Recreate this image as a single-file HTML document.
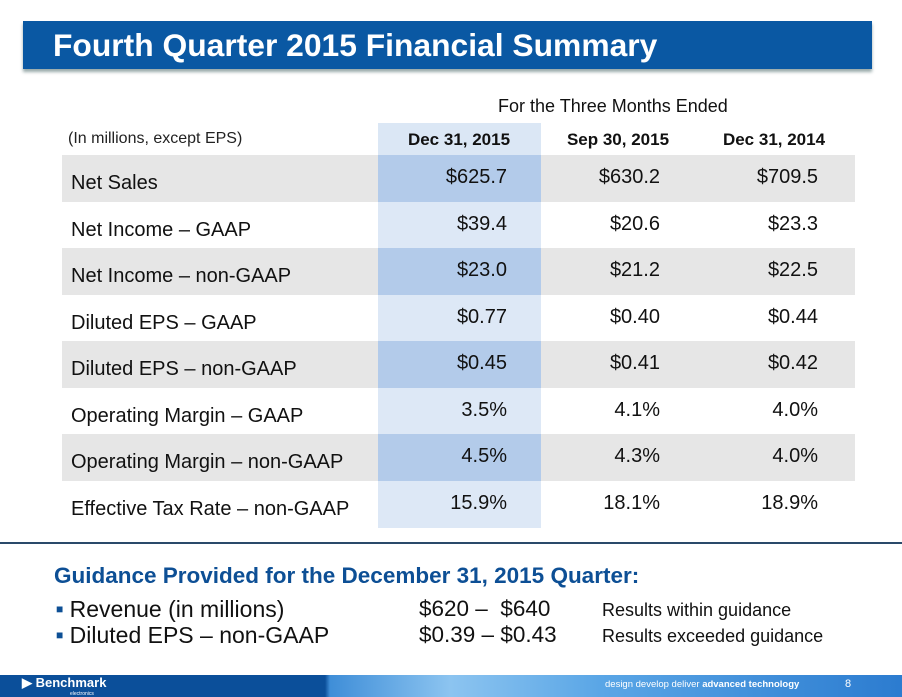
<!DOCTYPE html>
<html><head><meta charset="utf-8"><style>
body{margin:0;width:902px;height:697px;overflow:hidden;background:#fff;font-family:"Liberation Sans",sans-serif;position:relative}
.a{position:absolute;white-space:nowrap}
.row{position:absolute;left:62px;width:793px;height:47px}
.lab{position:absolute;left:9px;top:16px;font-size:20px;color:#111;line-height:24px}
.v{position:absolute;top:10px;font-size:20px;color:#111;text-align:right;width:120px;line-height:24px}
.h{position:absolute;top:130px;font-size:17px;font-weight:bold;color:#111;text-align:center;width:160px}
</style></head><body>
<div class="a" style="left:23px;top:21px;width:849px;height:48px;background:#0a58a3;box-shadow:0 3px 3px #9aa"></div>
<div class="a" style="left:53px;top:27px;font-size:31.8px;font-weight:bold;color:#fff">Fourth Quarter 2015 Financial Summary</div>
<div class="a" style="left:498px;top:96px;font-size:18px;color:#111">For the Three Months Ended</div>
<div class="a" style="left:68px;top:130px;font-size:16px;color:#222">(In millions, except EPS)</div>
<div class="a" style="left:378px;top:123px;width:163px;height:32px;background:#dbe7f5"></div>
<div class="h" style="left:379px">Dec 31, 2015</div>
<div class="h" style="left:538px">Sep 30, 2015</div>
<div class="h" style="left:694px">Dec 31, 2014</div>
<div id="tbl"></div>
<div class="a" style="left:0;top:542px;width:902px;height:1.5px;background:#2a4a6a"></div>
<div class="a" style="left:54px;top:563px;font-size:22.5px;font-weight:bold;color:#0d4f95">Guidance Provided for the December 31, 2015 Quarter:</div>
<div class="a" style="left:56px;top:596px;font-size:23px;color:#111"><span style="color:#0d4f95;font-size:12px;vertical-align:4px">■</span> Revenue (in millions)</div>
<div class="a" style="left:419px;top:596px;font-size:22.5px;color:#111">$620 –&nbsp; $640</div>
<div class="a" style="left:602px;top:600px;font-size:18px;color:#111">Results within guidance</div>
<div class="a" style="left:56px;top:622px;font-size:23px;color:#111"><span style="color:#0d4f95;font-size:12px;vertical-align:4px">■</span> Diluted EPS – non-GAAP</div>
<div class="a" style="left:419px;top:622px;font-size:22.5px;color:#111">$0.39 – $0.43</div>
<div class="a" style="left:602px;top:626px;font-size:18px;color:#111">Results exceeded guidance</div>
<div class="a" style="left:0;top:675px;width:902px;height:22px;background:linear-gradient(90deg,#0b4f9a 0,#0b4f9a 325px,#3f8ed8 330px,#8cc4f0 450px,#5aa6e6 600px,#2c7cd0 900px)"></div>
<div class="a" style="left:22px;top:675px;font-size:13px;font-weight:bold;color:#fff">▶ Benchmark<div style="font-size:5px;margin-left:48px;font-weight:normal">electronics</div></div>
<div class="a" style="left:605px;top:679px;font-size:9.5px;color:#fff">design develop deliver <b>advanced technology</b></div>
<div class="a" style="left:845px;top:678px;font-size:11px;color:#fff">8</div>
<script>
const labels=["Net Sales","Net Income – GAAP","Net Income – non-GAAP","Diluted EPS – GAAP","Diluted EPS – non-GAAP","Operating Margin – GAAP","Operating Margin – non-GAAP","Effective Tax Rate – non-GAAP"];
const colDec15=["$625.7","$39.4","$23.0","$0.77","$0.45","3.5%","4.5%","15.9%"];
const colSep15=["$630.2","$20.6","$21.2","$0.40","$0.41","4.1%","4.3%","18.1%"];
const colDec14=["$709.5","$23.3","$22.5","$0.44","$0.42","4.0%","4.0%","18.9%"];
const t=document.getElementById('tbl');
labels.forEach((l,i)=>{
 const top=155+i*46.5, grey=i%2===0;
 const r=document.createElement('div');r.className='row';r.style.top=top+'px';
 r.style.background=grey?'#e6e6e6':'transparent';
 
 
 const hl=document.createElement('div');hl.style.cssText='position:absolute;left:316px;top:0;width:163px;height:47px;background:'+(grey?'#b3cbea':'#dde8f6');
 
 
 r.appendChild(hl);
 const lb=document.createElement('div');lb.className='lab';lb.textContent=l;
 
 
 r.appendChild(lb);
 [[colDec15,445],[colSep15,598],[colDec14,756]].forEach(([arr,rx])=>{
  const v=document.createElement('div');v.className='v';v.style.left=(rx-120)+'px';v.textContent=arr[i];
  
  
  r.appendChild(v);
 });
 t.appendChild(r);
});
</script>
</body></html>
